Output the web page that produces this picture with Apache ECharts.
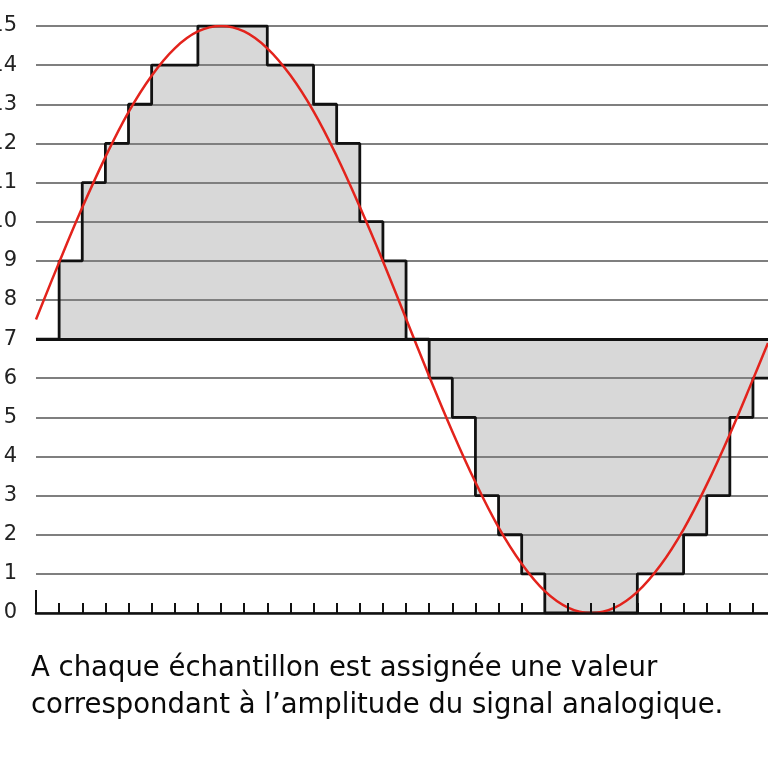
<!DOCTYPE html>
<html>
<head>
<meta charset="utf-8">
<script src="https://cdn.jsdelivr.net/npm/echarts@6/dist/echarts.min.js"></script>
<style>
  html, body { margin: 0; padding: 0; background: #ffffff; }
  #chart { width: 768px; height: 763px; }
</style>
</head>
<body>
<div id="chart"></div>
<script>
// Sample index (x) and quantized level held from that sample to the next
const sampleX = [0,1,2,3,4,5,6,7,8,9,10,11,12,13,14,15,16,17,18,19,20,21,22,23,24,25,26,27,28,29,30,31,31.65];
const quantized = [7,9,11,12,13,14,14,15,15,15,14,14,13,12,10,9,7,6,5,3,2,1,0,0,0,0,1,1,2,3,5,6,6];
// Analog signal read at each sample position
const analog = [7.5,8.96,10.36,11.65,12.8,13.73,14.43,14.86,15.0,14.86,14.43,13.74,12.82,11.68,10.38,8.99,7.52,6.05,4.64,3.34,2.19,1.26,0.56,0.14,0.0,0.13,0.54,1.22,2.14,3.28,4.57,5.97,6.9];
const yTicks = [0,1,2,3,4,5,6,7,8,9,10,11,12,13,14,15];
const xTicks = [0,1,2,3,4,5,6,7,8,9,10,11,12,13,14,15,16,17,18,19,20,21,22,23,24,25,26,27,28,29,30,31];
const baseLevel = 7;
const captionLines = [
  "A chaque échantillon est assignée une valeur",
  "correspondant à l’amplitude du signal analogique."
];

const stepData = sampleX.map((x, i) => [x, quantized[i]]);
const analogData = sampleX.map((x, i) => [x, analog[i]]);

const chart = echarts.init(document.getElementById('chart'), null, { renderer: 'canvas' });
chart.setOption({
  animation: false,
  backgroundColor: '#ffffff',
  title: {
    text: captionLines.join('\n'),
    left: 26,
    top: 645,
    textStyle: {
      fontFamily: 'DejaVu Sans',
      fontSize: 27.5,
      fontWeight: 'normal',
      color: '#0a0a0a',
      lineHeight: 37
    }
  },
  grid: { left: 36, right: 0, top: 26, bottom: 150, containLabel: false, outerBoundsMode: 'none' },
  xAxis: [
    {
      type: 'value',
      min: 0,
      max: 31.65,
      interval: 1,
      axisLine: { show: true, onZero: false, lineStyle: { color: '#111', width: 2.5 } },
      axisTick: { show: true, inside: true, length: 10, customValues: xTicks, lineStyle: { color: '#111', width: 2 } },
      axisLabel: { show: false },
      splitLine: { show: false },
      z: 5
    },
    {
      type: 'value',
      min: 0,
      max: 31.65,
      position: 'bottom',
      axisLine: { show: false },
      axisTick: { show: true, inside: true, length: 23, customValues: [0], lineStyle: { color: '#111', width: 2 } },
      axisLabel: { show: false },
      splitLine: { show: false },
      z: 5
    }
  ],
  yAxis: {
    type: 'value',
    min: 0,
    max: 15,
    interval: 1,
    axisLine: { show: false },
    axisTick: { show: false },
    axisLabel: {
      show: true,
      margin: 19,
      fontFamily: 'DejaVu Sans',
      fontSize: 21,
      color: '#222222',
      customValues: yTicks
    },
    splitLine: { show: true, lineStyle: { color: '#7f7f7f', width: 2 } },
    z: 2
  },
  series: [
    {
      name: 'fill',
      type: 'line',
      step: 'end',
      data: stepData,
      symbol: 'none',
      silent: true,
      lineStyle: { width: 0, opacity: 0 },
      areaStyle: { color: '#d8d8d8', opacity: 1, origin: baseLevel },
      z: 1
    },
    {
      name: 'quantized',
      type: 'line',
      step: 'end',
      data: stepData,
      symbol: 'none',
      silent: true,
      lineStyle: { color: '#111111', width: 2.8 },
      markLine: {
        silent: true,
        symbol: 'none',
        label: { show: false },
        lineStyle: { color: '#111111', width: 3, type: 'solid' },
        data: [{ yAxis: baseLevel }]
      },
      z: 3
    },
    {
      name: 'analog',
      type: 'line',
      data: analogData,
      smooth: 0.4,
      symbol: 'none',
      silent: true,
      lineStyle: { color: '#e3231c', width: 2.5 },
      z: 4
    }
  ]
});
</script>
</body>
</html>
